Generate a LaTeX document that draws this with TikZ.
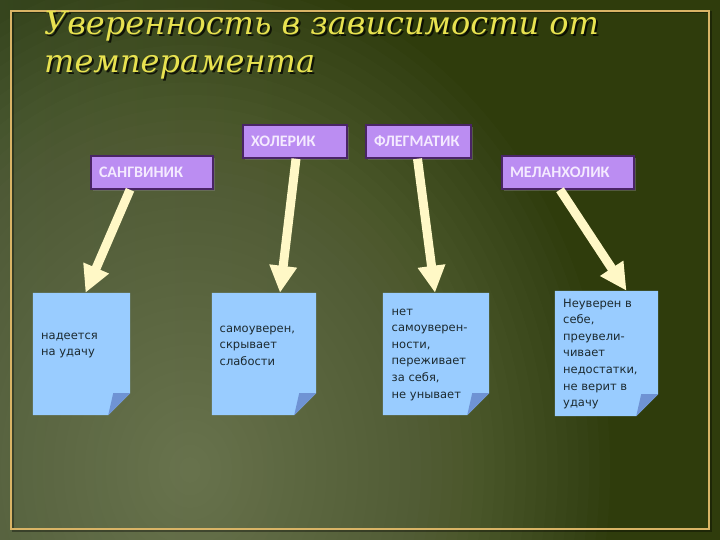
\documentclass[tikz,border=0pt]{standalone}
\usepackage{fontspec}
\setmainfont{DejaVu Sans}
\newfontfamily\titlefont{DejaVu Serif}
\newfontfamily\labelfont{Carlito}
\usetikzlibrary{arrows.meta,calc,shadows}
\definecolor{bgleft}{HTML}{3E5034}
\definecolor{bgdark}{HTML}{2F3C0C}
\definecolor{bglight}{HTML}{8C9474}
\definecolor{framecol}{HTML}{D9B466}
\definecolor{titlecol}{HTML}{E8E250}
\definecolor{labfill}{HTML}{BB8DF2}
\definecolor{labdraw}{HTML}{4A2466}
\definecolor{labtext}{HTML}{F4EAFF}
\definecolor{notefill}{HTML}{99CCFF}
\definecolor{foldfill}{HTML}{6F93D4}
\definecolor{notetextcol}{HTML}{1C2A30}
\definecolor{arrowcol}{HTML}{FFF8C6}
\pgfdeclarehorizontalshading{bgh}{100bp}{color(0bp)=(bgleft); color(45bp)=(bgdark); color(100bp)=(bgdark)}
\newcommand\notepaper[1]{%
  \fill[notefill] (#1.north west) -- (#1.north east) -- ($(#1.south east)+(0,-22)$)
    -- ($(#1.south east)+(-22,0)$) -- (#1.south west) -- cycle;
  \fill[foldfill] ($(#1.south east)+(0,-22)$) -- ($(#1.south east)+(-22,0)$)
    -- ($(#1.south east)+(-17,-22)$) -- cycle;}
\tikzset{
  lab/.style={draw=labdraw, line width=1.5pt, fill=labfill, text=labtext,
    font=\labelfont\bfseries\fontsize{16}{18}\selectfont, inner xsep=8pt, inner ysep=0pt,
    align=left, minimum height=33pt,
    drop shadow={shadow xshift=2pt, shadow yshift=-2pt, opacity=0.45}},
  notebox/.style={inner sep=0pt, draw=none},
  notetext/.style={inner sep=0pt, text=notetextcol, align=left,
    font=\fontsize{11.5}{16.6}\selectfont},
  bigarrow/.style={draw=arrowcol, line width=9pt, -{Triangle[width=26pt,length=27pt]}},
  titletext/.style={inner sep=0pt, align=left,
    font=\titlefont\itshape\fontsize{32}{38}\selectfont}
}
\begin{document}
\begin{tikzpicture}[x=1pt,y=-1pt]
\useasboundingbox (0,0) rectangle (720,540);
\clip (0,0) rectangle (720,540);
% background
\shade[shading=bgh] (0,0) rectangle (720,540);
\foreach \r in {1,...,40}{
  \fill[bglight, opacity=0.033] (190,470) ellipse ({\r*10.5} and {\r*12.5});
}
% frame
\draw[black, opacity=0.35, line width=2pt] (12.5,12.5) rectangle (710.5,530.5);
\draw[framecol, line width=2pt] (11,11) rectangle (709,529);
% title
\node[titletext, text=black, opacity=0.75, anchor=base west] (titleshadow) at (46,75)
  {Уверенность в зависимости от\\темперамента};
\node[titletext, text=titlecol, anchor=base west] (title) at (44,73)
  {Уверенность в зависимости от\\темперамента};
% labels
\node[lab, text width=106pt] (sang) at (152,172.5) {САНГВИНИК};
\node[lab, text width=88pt] (chol) at (295,141.5) {ХОЛЕРИК};
\node[lab, text width=89pt] (phleg) at (418.5,141.5) {ФЛЕГМАТИК};
\node[lab, text width=116pt] (mel) at (568,172.5) {МЕЛАНХОЛИК};
% notes
\node[notebox, minimum width=97pt, minimum height=122pt] (n1) at (81.5,354) {};
\node[notebox, minimum width=104pt, minimum height=122pt] (n2) at (264,354) {};
\node[notebox, minimum width=106pt, minimum height=122pt] (n3) at (436,354) {};
\node[notebox, minimum width=103pt, minimum height=125pt] (n4) at (606.5,353.5) {};
\notepaper{n1}
\notepaper{n2}
\notepaper{n3}
\notepaper{n4}
\node[notetext, anchor=base west] (t1) at (41,355.6) {надеется\\на удачу};
\node[notetext, anchor=base west] (t2) at (219.5,365.2) {самоуверен,\\скрывает\\слабости};
\node[notetext, anchor=base west] (t3) at (391.5,398) {нет\\самоуверен-\\ности,\\переживает\\за себя,\\не унывает};
\node[notetext, anchor=base west] (t4) at (563,406.6) {Неуверен в\\себе,\\преувели-\\чивает\\недостатки,\\не верит в\\удачу};
% arrows
\draw[bigarrow] ([xshift=-22pt]sang.south) -- ([xshift=4pt]n1.north);
\draw[bigarrow] ([xshift=1pt]chol.south) -- ([xshift=16pt]n2.north);
\draw[bigarrow] ([xshift=-1pt]phleg.south) -- ([xshift=-1pt]n3.north);
\draw[bigarrow] ([xshift=-8pt]mel.south) -- ([xshift=20pt]n4.north);
\end{tikzpicture}
\end{document}
